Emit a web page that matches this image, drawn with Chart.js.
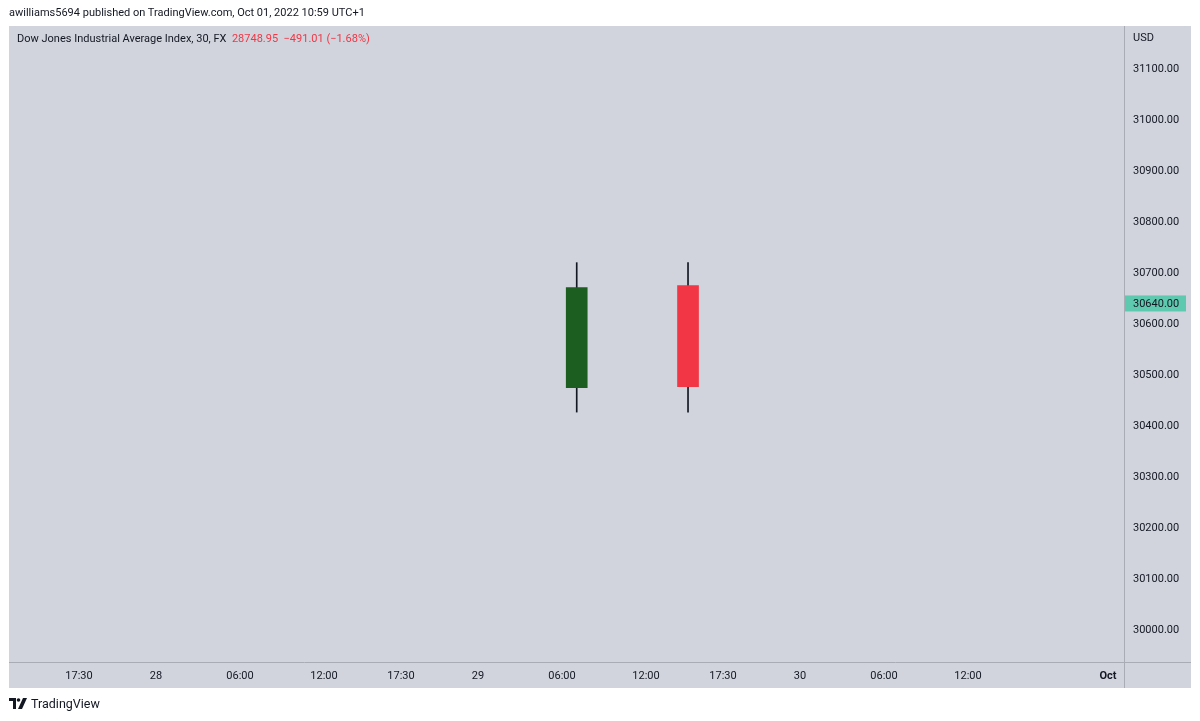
<!DOCTYPE html>
<html>
<head>
<meta charset="utf-8">
<script src="https://cdn.jsdelivr.net/npm/chart.js@4"></script>
<style>
  body { margin: 0; background: #fff; font-family: Roboto, "Noto Sans", sans-serif; color: #131722; }
  #wrap { position: relative; width: 1200px; height: 721px; }
  #chart { position: absolute; left: 0; top: 0; }
  .txt { position: absolute; white-space: nowrap; font-size: 11px; }
  #pub { left: 9px; top: 6px; }
  #legend { left: 17px; top: 32px; }
  #legend .red { color: #f23645; }
  #usd { left: 1133px; top: 31px; font-size: 11px; }
  #brand { left: 9px; top: 696px; display: flex; align-items: center; font-size: 12.5px; }
  #brand svg { margin-right: 4px; }
</style>
</head>
<body>
<div id="wrap">
  <canvas id="chart" width="1200" height="721"></canvas>
  <div class="txt" id="pub">awilliams5694 published on TradingView.com, Oct 01, 2022 10:59 UTC+1</div>
  <div class="txt" id="legend">Dow Jones Industrial Average Index, 30, FX&nbsp; <span class="red">28748.95&nbsp; −491.01 (−1.68%)</span></div>
  <div class="txt" id="usd">USD</div>
  <div class="txt" id="brand">
    <svg width="18" height="11" viewBox="0 0 18 11"><path d="M0 0h7v11H4V3H0z" fill="#131722"/><circle cx="9.5" cy="2" r="1.8" fill="#131722"/><path d="M14 0h4l-5 11H9z" fill="#131722"/></svg>
    TradingView
  </div>
</div>
<script>
// candles, x in hours along the (gapped) time axis
var candleX = [40.55, 48.5];
var opens = [30475, 30675];
var closes = [30671, 30477];
var highs = [30720, 30720];
var lows = [30427, 30427];
var lastPrice = 30640;

var xTickPos = [5, 10.5, 16.5, 22.5, 28, 33.5, 39.5, 45.5, 51, 56.5, 62.5, 68.5, 78.5];
var xTickLabels = ['17:30', '28', '06:00', '12:00', '17:30', '29', '06:00', '12:00', '17:30', '30', '06:00', '12:00', 'Oct'];
var yTicks = [30000, 30100, 30200, 30300, 30400, 30500, 30600, 30700, 30800, 30900, 31000, 31100];

var upColor = '#1b5e20';
var downColor = '#f23645';

var bodies = candleX.map((x, i) => ({ x: x, y: [opens[i], closes[i]] }));
var wicks = candleX.map((x, i) => ({ x: x, y: [lows[i], highs[i]] }));
var bodyColors = candleX.map((x, i) => closes[i] >= opens[i] ? upColor : downColor);

// panel background, separators and last price tag
var panelPlugin = {
  id: 'panel',
  beforeDraw(chart) {
    var ctx = chart.ctx;
    var xs = chart.scales.x, ys = chart.scales.y;
    ctx.save();
    ctx.fillStyle = '#d1d4dc';
    ctx.fillRect(xs.left, chart.chartArea.top, ys.right - xs.left, xs.bottom - chart.chartArea.top);
    ctx.restore();
  },
  afterDraw(chart) {
    var ctx = chart.ctx;
    var xs = chart.scales.x, ys = chart.scales.y;
    ctx.save();
    ctx.strokeStyle = '#a9acb5';
    ctx.lineWidth = 1;
    ctx.beginPath();
    ctx.moveTo(xs.left, xs.top + 0.5);
    ctx.lineTo(ys.right, xs.top + 0.5);
    ctx.moveTo(ys.left + 0.5, chart.chartArea.top);
    ctx.lineTo(ys.left + 0.5, xs.bottom);
    ctx.stroke();
    var py = ys.getPixelForValue(lastPrice);
    ctx.fillStyle = '#5fc9af';
    ctx.fillRect(ys.left + 1, py - 8, 61, 16);
    ctx.fillStyle = '#131722';
    ctx.font = '11px Roboto';
    ctx.textBaseline = 'middle';
    ctx.textAlign = 'left';
    ctx.fillText(lastPrice.toFixed(2), ys.left + 9, py + 1);
    ctx.restore();
  }
};

new Chart(document.getElementById('chart').getContext('2d'), {
  type: 'bar',
  data: {
    datasets: [
      { label: 'wick', data: wicks, backgroundColor: '#131722', barThickness: 1, grouped: false, borderWidth: 0, order: 2 },
      { label: 'body', data: bodies, backgroundColor: bodyColors, barThickness: 21, grouped: false, borderWidth: 0, order: 1 }
    ]
  },
  options: {
    responsive: false,
    animation: false,
    layout: { padding: { left: 9, top: 26, right: 9, bottom: 33 } },
    plugins: { legend: { display: false }, tooltip: { enabled: false } },
    scales: {
      x: {
        type: 'linear',
        min: 0,
        max: 79.64,
        offset: false,
        grid: { display: false, drawTicks: false },
        border: { display: false },
        afterFit: s => { s.height = 26; },
        afterBuildTicks: s => { s.ticks = xTickPos.map(v => ({ value: v })); },
        ticks: {
          autoSkip: false,
          maxRotation: 0,
          padding: 8,
          color: '#131722',
          font: c => ({ family: 'Roboto', size: 11, weight: c.tick && c.tick.value === 78.5 ? 'bold' : 'normal' }),
          callback: v => xTickLabels[xTickPos.indexOf(v)]
        }
      },
      y: {
        position: 'right',
        min: 29937,
        max: 31184,
        grid: { display: false, drawTicks: false },
        border: { display: false },
        afterFit: s => { s.width = 67; },
        afterBuildTicks: s => { s.ticks = yTicks.map(v => ({ value: v })); },
        ticks: {
          padding: 9,
          color: '#131722',
          font: { family: 'Roboto', size: 11 },
          callback: v => v.toFixed(2)
        }
      }
    }
  },
  plugins: [panelPlugin]
});
</script>
</body>
</html>
